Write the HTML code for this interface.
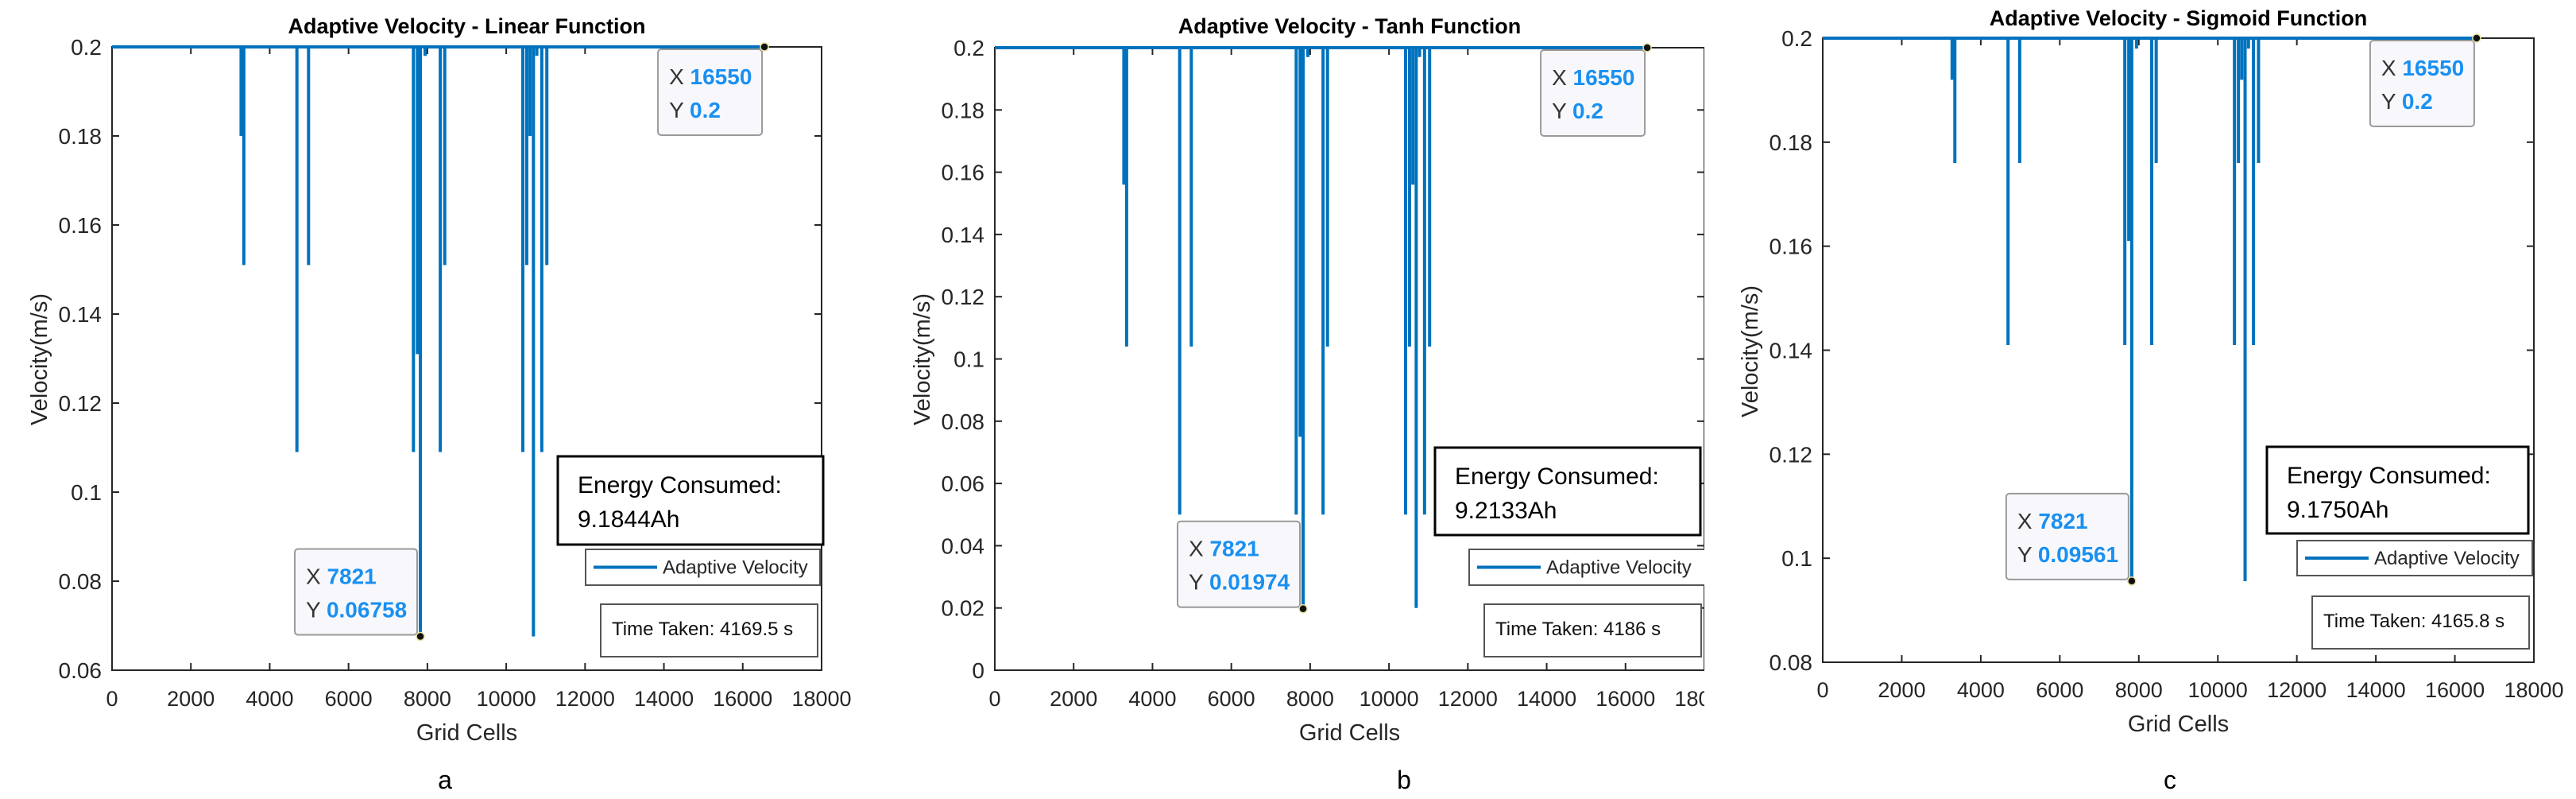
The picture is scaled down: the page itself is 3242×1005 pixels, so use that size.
<!DOCTYPE html>
<html><head><meta charset="utf-8"><style>
html,body{margin:0;padding:0;background:#fff;}
svg{display:block;}
text{font-family:"Liberation Sans",sans-serif;}
</style></head><body>
<svg id="fig" width="3242" height="1005" viewBox="0 0 3242 1005" xmlns="http://www.w3.org/2000/svg">
<defs><clipPath id="clipB"><rect x="0" y="0" width="2145" height="1005"/></clipPath></defs>
</svg>
<script>
// shared data
const spikeX = [3274,3344,4690,4985,7646,7746,7821,7942,8327,8440,10421,10521,10605,10690,10776,10902,11030];
const linearMin = [0.18,0.151,0.109,0.151,0.109,0.131,0.06758,0.198,0.109,0.151,0.109,0.151,0.18,0.0676,0.198,0.109,0.151];
const tanhMin = [0.156,0.104,0.05,0.104,0.05,0.075,0.01974,0.197,0.05,0.104,0.05,0.104,0.156,0.02,0.197,0.05,0.104];
const sigmoidMin = [0.192,0.176,0.141,0.176,0.141,0.161,0.09561,0.198,0.141,0.176,0.141,0.176,0.192,0.0956,0.198,0.141,0.176];
const xTicks = [0,2000,4000,6000,8000,10000,12000,14000,16000,18000];
const yTicksA = [0.06,0.08,0.1,0.12,0.14,0.16,0.18,0.2];
const yTicksB = [0,0.02,0.04,0.06,0.08,0.1,0.12,0.14,0.16,0.18,0.2];
const yTicksC = [0.08,0.1,0.12,0.14,0.16,0.18,0.2];
const yTickLabelsA = ["0.06","0.08","0.1","0.12","0.14","0.16","0.18","0.2"];
const yTickLabelsB = ["0","0.02","0.04","0.06","0.08","0.1","0.12","0.14","0.16","0.18","0.2"];
const yTickLabelsC = ["0.08","0.1","0.12","0.14","0.16","0.18","0.2"];
const endX = 16550;
const baseV = 0.2;
const tipLowY = ["0.06758","0.01974","0.09561"];
const energyVals = ["9.1844Ah","9.2133Ah","9.1750Ah"];
const timeVals = ["Time Taken: 4169.5 s","Time Taken: 4186 s","Time Taken: 4165.8 s"];

const NS="http://www.w3.org/2000/svg";
const svg=document.getElementById('fig');
function mk(tag,attrs,parent,txt){const e=document.createElementNS(NS,tag);for(const k in attrs)e.setAttribute(k,attrs[k]);if(txt!==undefined)e.textContent=txt;(parent||svg).appendChild(e);return e;}

const panels=[
 {id:'a',title:'Adaptive Velocity - Linear Function',L:141,R:1034,T:59,B:843,ymin:0.06,yt:yTicksA,yl:yTickLabelsA,mins:linearMin,titleY:33,tickY:878,gcY:921,letterX:560,letterY:981,ylabX:49,ylabY:452,
  energy:[702,574,334,111],legend:[737,691,295,45],time:[756,760,273,66],clip:false},
 {id:'b',title:'Adaptive Velocity - Tanh Function',L:1252,R:2145,T:60,B:843,ymin:0,yt:yTicksB,yl:yTickLabelsB,mins:tanhMin,titleY:33,tickY:878,gcY:921,letterX:1767,letterY:981,ylabX:1160,ylabY:452,
  energy:[1806,563,334,110],legend:[1849,691,300,45],time:[1868,760,273,66],clip:true},
 {id:'c',title:'Adaptive Velocity - Sigmoid Function',L:2294,R:3189,T:48,B:833,ymin:0.08,yt:yTicksC,yl:yTickLabelsC,mins:sigmoidMin,titleY:23,tickY:867,gcY:910,letterX:2731,letterY:981,ylabX:2202,ylabY:442,
  energy:[2853,562,329,109],legend:[2891,680,296,44],time:[2910,750,273,66],clip:false}
];

panels.forEach((p,pi)=>{
 const g=mk('g',{});
 
 
 if(p.clip)g.setAttribute('clip-path','url(#clipB)');
 const xs=v=>p.L+(v/18000)*(p.R-p.L);
 const ys=v=>p.B-(v-p.ymin)/(0.2-p.ymin)*(p.B-p.T);
 const cx=(p.L+p.R)/2;
 const ax=mk('rect',{x:p.L,y:p.T,width:p.R-p.L,height:p.B-p.T,fill:'none',stroke:'#262626','stroke-width':2},g);
 
 
 xTicks.forEach(t=>{
  const x=xs(t);
  mk('line',{x1:x,y1:p.B,x2:x,y2:p.B-9,stroke:'#262626','stroke-width':2},g);
  mk('line',{x1:x,y1:p.T,x2:x,y2:p.T+9,stroke:'#262626','stroke-width':2},g);
  const tl=mk('text',{x:x,y:p.tickY+10,'text-anchor':'middle','font-size':27,fill:'#262626'},g,String(t));
  
  
 });
 p.yt.forEach((t,i)=>{
  const y=ys(t);
  mk('line',{x1:p.L,y1:y,x2:p.L+9,y2:y,stroke:'#262626','stroke-width':2},g);
  mk('line',{x1:p.R,y1:y,x2:p.R-9,y2:y,stroke:'#262626','stroke-width':2},g);
  const tl=mk('text',{x:p.L-13,y:y+10,'text-anchor':'end','font-size':28,fill:'#262626'},g,p.yl[i]);
  
  
 });
 let d='M'+xs(0)+','+ys(baseV);
 spikeX.forEach((sx,i)=>{d+=' L'+xs(sx)+','+ys(baseV)+' L'+xs(sx)+','+ys(p.mins[i])+' L'+xs(sx)+','+ys(baseV);});
 d+=' L'+xs(endX)+','+ys(baseV);
 const ln=mk('path',{d:d,fill:'none',stroke:'#0072BD','stroke-width':4},g);
 
 
 const ti=mk('text',{x:cx,y:p.titleY+9,'text-anchor':'middle','font-size':27,'font-weight':'bold',fill:'#000'},g,p.title);
 
 
 const yl=mk('text',{x:0,y:0,'text-anchor':'middle','font-size':29,fill:'#262626',transform:'translate('+(p.ylabX+10)+','+p.ylabY+') rotate(-90)'},g,'Velocity(m/s)');
 
 
 const xl=mk('text',{x:cx,y:p.gcY+10,'text-anchor':'middle','font-size':29,fill:'#262626'},g,'Grid Cells');
 
 
 const e=p.energy;
 const eb=mk('rect',{x:e[0],y:e[1],width:e[2],height:e[3],fill:'#fff',stroke:'#000','stroke-width':3},g);
 
 
 mk('text',{x:e[0]+25,y:e[1]+46,'font-size':30,fill:'#000'},g,'Energy Consumed:');
 mk('text',{x:e[0]+25,y:e[1]+89,'font-size':30,fill:'#000'},g,energyVals[pi]);
 const l=p.legend;
 const lb=mk('rect',{x:l[0],y:l[1],width:l[2],height:l[3],fill:'#fff',stroke:'#555','stroke-width':2},g);
 
 
 mk('line',{x1:l[0]+10,y1:l[1]+l[3]/2,x2:l[0]+90,y2:l[1]+l[3]/2,stroke:'#0072BD','stroke-width':4},g);
 const lt=mk('text',{x:l[0]+97,y:l[1]+l[3]/2+8,'font-size':24,fill:'#262626'},g,'Adaptive Velocity');
 
 
 const t=p.time;
 const tb=mk('rect',{x:t[0],y:t[1],width:t[2],height:t[3],fill:'#fff',stroke:'#555','stroke-width':2},g);
 
 
 mk('text',{x:t[0]+14,y:t[1]+39,'font-size':24,fill:'#111'},g,timeVals[pi]);
 const lowIdx=spikeX.indexOf(7821);
 const tips=[[endX,baseV,'16550','0.2',-134,3],[7821,p.mins[lowIdx],'7821',tipLowY[pi],-158,-110]];
 tips.forEach(tp=>{
  const dx=xs(tp[0]),dy=ys(tp[1]);
  const bx=dx+tp[4], by=dy+tp[5];
  const bw=(tp[4]===-134)?131:154;
  const tg=mk('g',{},g);
  
  
  mk('rect',{x:bx,y:by,width:bw,height:108,rx:4,fill:'#f8f8fc',stroke:'#9a9a9a','stroke-width':2},tg);
  const t1=mk('text',{x:bx+14,y:by+44,'font-size':28,fill:'#333'},tg);
  mk('tspan',{},t1,'X ');
  mk('tspan',{fill:'#1a90f0','font-weight':'bold'},t1,tp[2]);
  const t2=mk('text',{x:bx+14,y:by+86,'font-size':28,fill:'#333'},tg);
  mk('tspan',{},t2,'Y ');
  mk('tspan',{fill:'#1a90f0','font-weight':'bold'},t2,tp[3]);
  const dot=mk('circle',{cx:dx,cy:dy,r:5,fill:'#111',stroke:'#e8e0a0','stroke-width':1.5},tg);
  
  
 });
 const lt2=mk('text',{x:p.letterX,y:p.letterY+11,'text-anchor':'middle','font-size':32,fill:'#000'},svg,p.id);
 
 
});
</script>
</body></html>
